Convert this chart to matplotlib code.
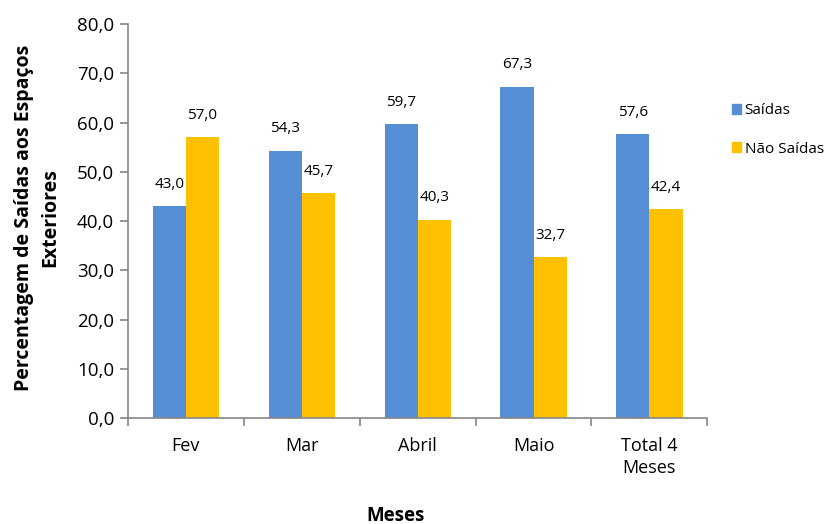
import numpy as np
import matplotlib.pyplot as plt
from matplotlib.patches import Patch

# dados por mês
meses = ["Fev", "Mar", "Abril", "Maio", "Total 4\nMeses"]
saidas = [43.0, 54.3, 59.7, 67.3, 57.6]
nao_saidas = [57.0, 45.7, 40.3, 32.7, 42.4]

azul = "#558ED5"
amarelo = "#FFC000"
cinza = "#868686"

plt.rcParams["font.family"] = ["Open Sans", "DejaVu Sans"]

fig = plt.figure(figsize=(8.3, 5.24), dpi=100)
ax = fig.add_axes([0.1542, 0.2023, 0.698, 0.7517])

x = np.arange(len(meses))
w = 0.286
b1 = ax.bar(x - w / 2, saidas, w, color=azul)
b2 = ax.bar(x + w / 2, nao_saidas, w, color=amarelo)

# rótulos de valor por cima das barras
for bars, vals in ((b1, saidas), (b2, nao_saidas)):
    for r, v in zip(bars, vals):
        ax.text(r.get_x() + r.get_width() / 2, v + 4.4, f"{v:.1f}".replace(".", ","),
                ha="center", va="center", fontsize=11, color="#000000")

ax.set_xlim(-0.5, len(meses) - 0.5)
ax.set_ylim(0, 80)
ax.set_yticks(np.arange(0, 81, 10))
ax.set_yticklabels([f"{v:.1f}".replace(".", ",") for v in np.arange(0, 81, 10)], fontsize=13.5)

# marcas nas fronteiras das categorias, nomes no centro
ax.set_xticks(np.arange(-0.5, len(meses), 1))
ax.set_xticklabels([])
ax.set_xticks(x, minor=True)
ax.set_xticklabels(meses, minor=True, fontsize=13, linespacing=1.25)
ax.tick_params(axis="x", which="major", direction="out", length=6, color=cinza, width=1.2)
ax.tick_params(axis="x", which="minor", length=0, pad=14)
ax.tick_params(axis="y", direction="out", length=6, color=cinza, width=1.2, pad=4)

for s in ("top", "right"):
    ax.spines[s].set_visible(False)
for s in ("left", "bottom"):
    ax.spines[s].set_color(cinza)
    ax.spines[s].set_linewidth(1.2)

fig.text(0.476, 0.016, "Meses", ha="center", va="center", fontsize=13.5, fontweight="bold")
fig.text(0.045, 0.585, "Percentagem de Saídas aos Espaços\nExteriores", ha="center", va="center",
         rotation=90, fontsize=14, fontweight="bold", linespacing=1.4)

handles = [Patch(color=azul, label="Saídas"), Patch(color=amarelo, label="Não Saídas")]
fig.legend(handles=handles, loc="upper left", bbox_to_anchor=(0.874, 0.815), frameon=False,
           fontsize=11, handlelength=0.65, handleheight=0.65, handletextpad=0.2,
           labelspacing=1.55, borderaxespad=0.0)

fig.savefig("out.png", dpi=100)
